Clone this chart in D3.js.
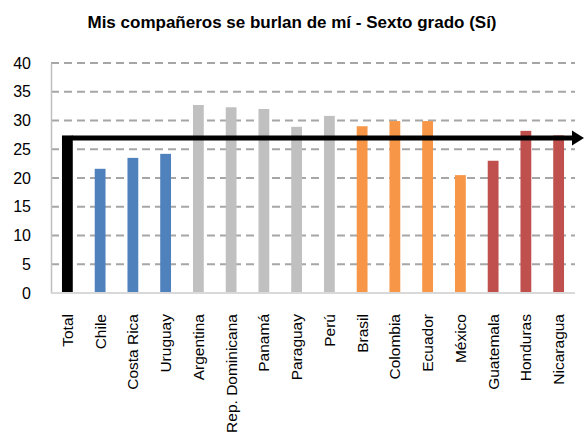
<!DOCTYPE html>
<html>
<head>
<meta charset="utf-8">
<script src="https://cdn.jsdelivr.net/npm/d3@7"></script>
<style>
  body { margin: 0; background: #fff; }
  svg { display: block; font-family: Arial, "Liberation Sans", sans-serif; }
</style>
</head>
<body>
<script>
const width = 584;
const height = 436;
const margin = { top: 63, right: 9, bottom: 143, left: 51 };

const paises = ["Total", "Chile", "Costa Rica", "Uruguay", "Argentina", "Rep. Dominicana",
  "Panamá", "Paraguay", "Perú", "Brasil", "Colombia", "Ecuador", "México",
  "Guatemala", "Honduras", "Nicaragua"];
const porcentajes = [27.4, 21.6, 23.5, 24.2, 32.7, 32.3, 32.0, 28.9, 30.8, 29.0,
  29.9, 29.9, 20.5, 23.0, 28.2, 27.4];
const grupos = ["total", "a", "a", "a", "b", "b", "b", "b", "b", "c", "c", "c", "c",
  "d", "d", "d"];
const ticksY = [0, 5, 10, 15, 20, 25, 30, 35, 40];

const colores = {
  total: "#000000",
  a: "#4f81bd",
  b: "#c0c0c0",
  c: "#f79646",
  d: "#c0504d",
};

const datos = paises.map((p, i) => ({ pais: p, valor: porcentajes[i], grupo: grupos[i] }));

const svg = d3.select("body").append("svg")
  .attr("width", width)
  .attr("height", height);

const innerW = width - margin.left - margin.right;
const innerH = height - margin.top - margin.bottom;

const x = d3.scaleBand()
  .domain(paises)
  .range([0, innerW])
  .paddingInner(0.67)
  .paddingOuter(0.335);

const y = d3.scaleLinear().domain([0, 40]).range([innerH, 0]);

const g = svg.append("g").attr("transform", `translate(${margin.left},${margin.top})`);

// titulo
svg.append("text")
  .attr("x", 292)
  .attr("y", 28)
  .attr("text-anchor", "middle")
  .attr("font-weight", "bold")
  .attr("font-size", 17)
  .text("Mis compañeros se burlan de mí - Sexto grado (Sí)");

// lineas de grilla
g.append("g")
  .selectAll("line")
  .data(ticksY.filter((d) => d > 0))
  .join("line")
  .attr("x1", 0)
  .attr("x2", innerW)
  .attr("y1", (d) => y(d))
  .attr("y2", (d) => y(d))
  .attr("stroke", "#a6a6a6")
  .attr("stroke-width", 2)
  .attr("stroke-dasharray", "8,5");

// eje Y
const ejeY = d3.axisLeft(y).tickValues(ticksY).tickSize(0).tickPadding(20);
g.append("g")
  .call(ejeY)
  .call((s) => s.select(".domain").attr("stroke", "#bfbfbf").attr("stroke-width", 1.5))
  .selectAll("text")
  .attr("font-size", 16)
  .attr("fill", "#000");

// barras
g.selectAll("rect.barra")
  .data(datos)
  .join("rect")
  .attr("class", "barra")
  .attr("x", (d) => x(d.pais))
  .attr("width", x.bandwidth())
  .attr("y", (d) => y(d.valor))
  .attr("height", (d) => innerH - y(d.valor))
  .attr("fill", (d) => colores[d.grupo]);

// linea base
g.append("line")
  .attr("x1", 0)
  .attr("x2", innerW)
  .attr("y1", innerH)
  .attr("y2", innerH)
  .attr("stroke", "#d9d9d9")
  .attr("stroke-width", 2);

// flecha del promedio total
const total = datos[0];
const yFlecha = y(total.valor) + 2.5;
const xIni = x(total.pais) + x.bandwidth();
const xFin = width - 11;
svg.append("line")
  .attr("x1", margin.left + xIni - 1)
  .attr("x2", xFin)
  .attr("y1", margin.top + yFlecha)
  .attr("y2", margin.top + yFlecha)
  .attr("stroke", "#000")
  .attr("stroke-width", 5);
svg.append("path")
  .attr("d", `M${xFin - 1},${margin.top + yFlecha - 7.5} L${width},${margin.top + yFlecha} L${xFin - 1},${margin.top + yFlecha + 7.5} Z`)
  .attr("fill", "#000");

// etiquetas del eje X
g.append("g")
  .selectAll("text")
  .data(datos)
  .join("text")
  .attr("transform", (d) => `translate(${x(d.pais) + x.bandwidth() / 2},${innerH + 21}) rotate(-90)`)
  .attr("text-anchor", "end")
  .attr("dy", "0.35em")
  .attr("font-size", 15.5)
  .text((d) => d.pais);
</script>
</body>
</html>
